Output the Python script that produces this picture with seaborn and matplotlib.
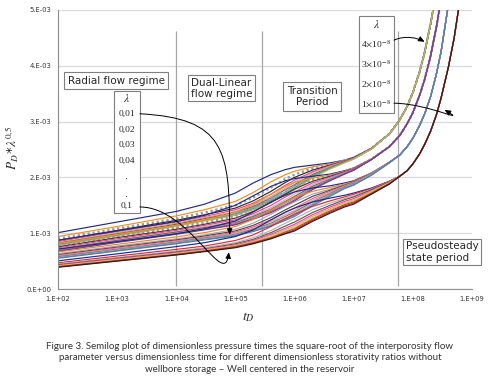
import matplotlib
matplotlib.use("Agg")
import matplotlib.pyplot as plt
from matplotlib.path import Path
from matplotlib.patches import FancyArrowPatch, Rectangle
from matplotlib.ticker import FuncFormatter, NullLocator
import pandas as pd
import seaborn as sns

# time grid shared by every curve
t_early = [1e2, 1e3, 1e4, 3e4, 1e5, 2e5, 4e5, 7e5, 1e6, 2e6, 4e6, 7e6, 1e7, 2e7, 4e7]
t_late = [6e7, 8e7, 1e8, 1.3e8, 1.6e8, 2e8, 2.5e8, 3e8, 4e8, 5e8, 6e8, 8e8]

omegas = ["0,01", "0,02", "0,03", "0,04", "0,05", "0,06", "0,07", "0,08", "0,09", "0,1"]
lambdas = ["4e-8", "3e-8", "2e-8", "1e-8"]

# PD*sqrt(lambda) in units of 1e-3, one row per omega (0.01 -> 0.1)
lam4_early = [
    [1.01, 1.20, 1.39, 1.52, 1.72, 1.90, 2.05, 2.14, 2.18, 2.22, 2.26, 2.31, 2.36, 2.52, 2.78],
    [0.94, 1.12, 1.31, 1.42, 1.57, 1.73, 1.92, 2.05, 2.11, 2.19, 2.24, 2.30, 2.35, 2.52, 2.78],
    [0.90, 1.08, 1.26, 1.37, 1.50, 1.64, 1.82, 1.97, 2.05, 2.16, 2.23, 2.30, 2.35, 2.52, 2.78],
    [0.87, 1.05, 1.23, 1.33, 1.45, 1.58, 1.75, 1.91, 2.00, 2.13, 2.22, 2.29, 2.35, 2.52, 2.78],
    [0.85, 1.03, 1.20, 1.30, 1.42, 1.54, 1.70, 1.86, 1.95, 2.10, 2.21, 2.29, 2.34, 2.52, 2.78],
    [0.83, 1.01, 1.18, 1.28, 1.39, 1.51, 1.66, 1.81, 1.91, 2.08, 2.20, 2.28, 2.34, 2.51, 2.78],
    [0.82, 0.99, 1.16, 1.26, 1.37, 1.48, 1.63, 1.78, 1.87, 2.05, 2.18, 2.28, 2.34, 2.51, 2.78],
    [0.80, 0.97, 1.14, 1.24, 1.35, 1.46, 1.60, 1.74, 1.84, 2.03, 2.17, 2.27, 2.33, 2.51, 2.78],
    [0.79, 0.96, 1.13, 1.23, 1.33, 1.44, 1.58, 1.71, 1.81, 2.01, 2.16, 2.27, 2.33, 2.51, 2.78],
    [0.78, 0.95, 1.12, 1.22, 1.32, 1.42, 1.56, 1.69, 1.78, 1.99, 2.15, 2.26, 2.33, 2.51, 2.78],
]
lam4_late = [3.03, 3.27, 3.52, 3.89, 4.26, 4.75, 5.37, 6.0, 7.2, 8.5, 9.7, 12.0]

lam3_early = [
    [0.875, 1.04, 1.21, 1.32, 1.50, 1.67, 1.84, 1.94, 1.98, 2.02, 2.06, 2.12, 2.17, 2.33, 2.55],
    [0.815, 0.98, 1.14, 1.24, 1.37, 1.52, 1.70, 1.84, 1.91, 1.99, 2.04, 2.11, 2.16, 2.33, 2.55],
    [0.78, 0.945, 1.10, 1.19, 1.31, 1.44, 1.61, 1.76, 1.85, 1.96, 2.03, 2.10, 2.16, 2.33, 2.55],
    [0.755, 0.92, 1.07, 1.16, 1.27, 1.39, 1.55, 1.70, 1.79, 1.93, 2.02, 2.10, 2.15, 2.32, 2.55],
    [0.735, 0.90, 1.05, 1.14, 1.24, 1.35, 1.50, 1.65, 1.74, 1.90, 2.00, 2.09, 2.15, 2.32, 2.55],
    [0.72, 0.88, 1.03, 1.12, 1.21, 1.32, 1.46, 1.60, 1.70, 1.87, 1.99, 2.08, 2.14, 2.32, 2.55],
    [0.71, 0.87, 1.02, 1.10, 1.19, 1.30, 1.43, 1.57, 1.66, 1.84, 1.97, 2.07, 2.14, 2.32, 2.55],
    [0.695, 0.855, 1.00, 1.08, 1.17, 1.28, 1.41, 1.54, 1.63, 1.82, 1.96, 2.07, 2.13, 2.32, 2.55],
    [0.685, 0.845, 0.99, 1.07, 1.16, 1.26, 1.39, 1.51, 1.60, 1.80, 1.95, 2.06, 2.13, 2.32, 2.55],
    [0.675, 0.835, 0.98, 1.06, 1.15, 1.25, 1.37, 1.49, 1.58, 1.78, 1.94, 2.06, 2.13, 2.32, 2.55],
]
lam3_late = [2.75, 2.96, 3.16, 3.47, 3.77, 4.18, 4.69, 5.2, 6.2, 7.2, 8.2, 10.0]

lam2_early = [
    [0.715, 0.85, 0.99, 1.08, 1.22, 1.38, 1.56, 1.68, 1.74, 1.81, 1.85, 1.90, 1.94, 2.08, 2.27],
    [0.665, 0.80, 0.935, 1.01, 1.12, 1.25, 1.42, 1.56, 1.64, 1.75, 1.82, 1.88, 1.93, 2.08, 2.27],
    [0.635, 0.77, 0.90, 0.97, 1.07, 1.18, 1.34, 1.48, 1.56, 1.70, 1.79, 1.87, 1.92, 2.07, 2.27],
    [0.615, 0.75, 0.88, 0.95, 1.04, 1.14, 1.28, 1.42, 1.50, 1.66, 1.77, 1.86, 1.92, 2.07, 2.27],
    [0.60, 0.735, 0.865, 0.93, 1.02, 1.11, 1.24, 1.37, 1.45, 1.62, 1.75, 1.85, 1.91, 2.06, 2.27],
    [0.59, 0.72, 0.85, 0.92, 1.00, 1.09, 1.21, 1.33, 1.41, 1.59, 1.73, 1.84, 1.90, 2.06, 2.27],
    [0.58, 0.71, 0.84, 0.91, 0.98, 1.07, 1.18, 1.30, 1.38, 1.56, 1.71, 1.83, 1.89, 2.05, 2.27],
    [0.565, 0.70, 0.83, 0.90, 0.97, 1.05, 1.16, 1.27, 1.35, 1.53, 1.69, 1.82, 1.88, 2.05, 2.26],
    [0.56, 0.69, 0.82, 0.89, 0.96, 1.04, 1.14, 1.25, 1.32, 1.51, 1.68, 1.81, 1.87, 2.04, 2.26],
    [0.55, 0.68, 0.81, 0.88, 0.95, 1.03, 1.13, 1.23, 1.30, 1.49, 1.66, 1.80, 1.86, 2.04, 2.26],
]
lam2_late = [2.40, 2.55, 2.70, 2.93, 3.15, 3.45, 3.85, 4.25, 5.1, 5.9, 6.8, 8.5]

lam1_early = [
    [0.505, 0.63, 0.76, 0.83, 0.94, 1.06, 1.24, 1.38, 1.45, 1.56, 1.63, 1.68, 1.72, 1.81, 1.93],
    [0.47, 0.59, 0.71, 0.77, 0.87, 0.97, 1.12, 1.26, 1.34, 1.48, 1.58, 1.65, 1.70, 1.80, 1.93],
    [0.45, 0.565, 0.68, 0.74, 0.83, 0.92, 1.05, 1.18, 1.26, 1.42, 1.54, 1.62, 1.67, 1.79, 1.92],
    [0.435, 0.55, 0.665, 0.72, 0.81, 0.89, 1.01, 1.13, 1.20, 1.37, 1.50, 1.60, 1.65, 1.78, 1.92],
    [0.425, 0.54, 0.65, 0.71, 0.79, 0.87, 0.98, 1.09, 1.16, 1.33, 1.47, 1.57, 1.62, 1.76, 1.91],
    [0.415, 0.53, 0.64, 0.70, 0.78, 0.85, 0.96, 1.06, 1.13, 1.30, 1.44, 1.55, 1.60, 1.75, 1.90],
    [0.41, 0.52, 0.63, 0.69, 0.77, 0.84, 0.94, 1.04, 1.10, 1.27, 1.42, 1.53, 1.58, 1.74, 1.90],
    [0.40, 0.51, 0.62, 0.68, 0.76, 0.83, 0.92, 1.02, 1.08, 1.25, 1.40, 1.51, 1.56, 1.72, 1.89],
    [0.395, 0.505, 0.615, 0.675, 0.75, 0.82, 0.91, 1.00, 1.06, 1.23, 1.38, 1.49, 1.54, 1.71, 1.88],
    [0.39, 0.50, 0.61, 0.67, 0.74, 0.81, 0.90, 0.99, 1.04, 1.21, 1.36, 1.47, 1.52, 1.70, 1.88],
]
lam1_late = [2.02, 2.12, 2.24, 2.42, 2.60, 2.83, 3.12, 3.42, 3.98, 4.5, 5.05, 6.1]

regime_bounds = [1e4, 2.8e5, 5.7e7]

# line colours per omega, one list per lambda group (last one drawn shows on the merged rise)
lam4_colors = ["#1f2a8c", "#f28e1c", "#9a9a9a", "#2b2b2b", "#ff3b8d",
               "#c9a99f", "#8b5a3c", "#6a9fc8", "#4f9a62", "#c9b45c"]
lam3_colors = ["#1f2a8c", "#f28e1c", "#9a9a9a", "#3b3b3b", "#ff3b8d",
               "#b7b7b7", "#8b5a3c", "#6a9fc8", "#d1496b", "#6b3f98"]
lam2_colors = ["#1f2a8c", "#e8882a", "#a8a8a8", "#4a4a4a", "#ff4f9a",
               "#c9a99f", "#9c6b4a", "#7fb2d8", "#8a8a8a", "#4f7fb8"]
lam1_colors = ["#1f2a8c", "#e3262f", "#b0b0b0", "#5a5a5a", "#ff3b8d",
               "#c9a99f", "#e6c229", "#a0522d", "#e01e3c", "#2a1f1a"]

groups = [(lambdas[0], lam4_early, lam4_late),
          (lambdas[1], lam3_early, lam3_late),
          (lambdas[2], lam2_early, lam2_late),
          (lambdas[3], lam1_early, lam1_late)]
group_colors = dict(zip(lambdas, [lam4_colors, lam3_colors, lam2_colors, lam1_colors]))

rows = []
for lam, early_rows, late in groups:
    for k, vals in enumerate(early_rows):
        for t, v in zip(t_early + t_late, vals + late):
            rows.append((lam, omegas[k], t, v * 1e-3))
df = pd.DataFrame(rows, columns=["lam", "omega", "tD", "pd"])

sns.set_style("white")
plt.rcParams["font.family"] = ["DejaVu Sans"]
plt.rcParams["mathtext.fontset"] = "stix"

fig = plt.figure(figsize=(4.94, 3.87), dpi=100)
ax = fig.add_axes([0.1174, 0.2532, 0.838, 0.721])
ax.set_xscale("log")

ax.vlines(regime_bounds, 0.05e-3, 4.63e-3, color="#a6a6a6", lw=0.9, zorder=1.5)

for (lam, om), sub in df.groupby(["lam", "omega"], sort=False):
    k = omegas.index(om)
    col = group_colors[lam][k]
    if k == 2 and lam in lambdas[:2]:
        sns.lineplot(data=sub, x="tD", y="pd", ax=ax, estimator=None, color=col,
                     lw=1.8, linestyle=(0, (0.9, 1.1)), legend=False, zorder=2)
    else:
        sns.lineplot(data=sub, x="tD", y="pd", ax=ax, estimator=None, color=col,
                     lw=0.85, legend=False, zorder=2)

ax.set_xscale("log")
ax.set_xlim(1e2, 1e9)
ax.set_ylim(0, 5e-3)
ax.set_xticks([1e2, 1e3, 1e4, 1e5, 1e6, 1e7, 1e8, 1e9])
ax.set_yticks([0, 1e-3, 2e-3, 3e-3, 4e-3, 5e-3])
ax.xaxis.set_minor_locator(NullLocator())
fmt = FuncFormatter(lambda v, p: format(v, "#.0E"))
ax.xaxis.set_major_formatter(fmt)
ax.yaxis.set_major_formatter(fmt)
ax.tick_params(direction="out", length=3, width=0.8, color="#8c8c8c",
               labelsize=4.9, labelcolor="#333333", pad=2)
ax.yaxis.grid(True, color="#d9d9d9", lw=0.9)
ax.set_axisbelow(True)
for s in ["top", "right"]:
    ax.spines[s].set_visible(False)
for s in ["left", "bottom"]:
    ax.spines[s].set_color("#8c8c8c")
    ax.spines[s].set_linewidth(0.8)

ax.set_xlabel(r"$t_{D}$", fontsize=10)
ax.xaxis.set_label_coords(0.459, -0.075)
ax.set_ylabel(r"$P_{D}\,$*$\lambda^{0{,}5}$", fontsize=9.5)
ax.yaxis.set_label_coords(-0.090, 0.505)

box = dict(boxstyle="square,pad=0.35", fc="white", ec="#7f7f7f", lw=0.8)
ax.text(966, 3.733e-3, "Radial flow regime", fontsize=7.5, ha="center", va="center",
        bbox=box, zorder=5)
ax.text(1.75e4, 3.597e-3, "Dual-Linear\nflow regime", fontsize=7.5, ha="left", va="center",
        bbox=dict(box, boxstyle="square,pad=0.25"), zorder=5, linespacing=1.15)
ax.text(1.99e6, 3.45e-3, "Transition\nPeriod", fontsize=7.5, ha="center", va="center",
        bbox=box, zorder=5, linespacing=1.15)
ax.text(7.55e7, 0.663e-3, "Pseudosteady\nstate period", fontsize=7.5, ha="left", va="center",
        bbox=dict(box, boxstyle="square,pad=0.25"), zorder=5, linespacing=1.15)

# lambda boxes
serif = ["Liberation Serif", "DejaVu Serif"]
ax.add_patch(Rectangle((893, 1.367e-3), 2.43e3 - 893, 3.554e-3 - 1.367e-3, fc="white",
                       ec="#7f7f7f", lw=0.8, zorder=5))
left_lines = [r"$\lambda$", "0,01", "0,02", "0,03", "0,04", "·", "·", "0,1"]
left_y = [3.405e-3, 3.131e-3, 2.849e-3, 2.581e-3, 2.299e-3, 1.971e-3, 1.654e-3, 1.493e-3]
for s, y in zip(left_lines, left_y):
    ax.text(1.47e3, y, s, family=serif, fontsize=8.5 if s.startswith("$") else 6.8,
            ha="center", va="center", zorder=6)

ax.add_patch(Rectangle((1.22e7, 3.159e-3), 4.8e7 - 1.22e7, 4.892e-3 - 3.159e-3, fc="white",
                       ec="#7f7f7f", lw=0.8, zorder=5))
right_lines = [r"$\lambda$", r"4$\times$10$^{-8}$", r"3$\times$10$^{-8}$",
               r"2$\times$10$^{-8}$", r"1$\times$10$^{-8}$"]
right_y = [4.737e-3, 4.391e-3, 4.038e-3, 3.679e-3, 3.328e-3]
for s, y in zip(right_lines, right_y):
    ax.text(2.42e7, y, s, family=serif, fontsize=8.5 if s.startswith("$") else 6.8,
            ha="center", va="center", zorder=6)

# curved pointers
C4 = [Path.MOVETO, Path.CURVE4, Path.CURVE4, Path.CURVE4]
pointers = [
    [(2.43e3, 3.14e-3), (6.62e4, 3.06e-3), (8.0e4, 2.49e-3), (8.0e4, 0.97e-3)],
    [(2.43e3, 1.47e-3), (1.70e4, 1.47e-3), (6.62e4, -0.05e-3), (7.74e4, 0.66e-3)],
    [(4.8e7, 4.46e-3), (7.5e7, 4.55e-3), (1.2e8, 4.5e-3), (1.58e8, 4.43e-3)],
    [(4.8e7, 3.33e-3), (1.92e8, 3.32e-3), (9.1e8, 2.94e-3), (3.44e8, 3.21e-3)],
]
for verts in pointers:
    ax.add_patch(FancyArrowPatch(path=Path(verts, C4), arrowstyle="-|>,head_length=0.45,head_width=0.2",
                                 mutation_scale=8, lw=0.7, color="black", clip_on=False, zorder=7))

caption = ("Figure 3. Semilog plot of dimensionless pressure times the square-root of the interporosity flow\n"
           "parameter versus dimensionless time for different dimensionless storativity ratios without\n"
           "wellbore storage \u2013 Well centered in the reservoir")
fig.text(0.506, 1 - 358 / 387, caption, ha="center", va="center", fontsize=7,
         family=["Lato", "DejaVu Sans"], color="#333333", linespacing=1.35)

fig.savefig("out.png", dpi=100)
